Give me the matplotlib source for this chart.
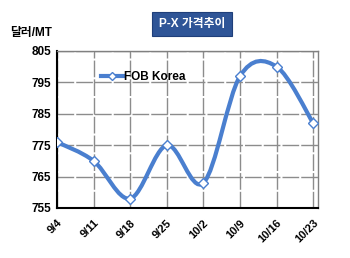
import matplotlib
matplotlib.use("Agg")
import matplotlib.pyplot as plt
import numpy as np
from matplotlib.path import Path
from matplotlib.patches import PathPatch
from matplotlib.lines import Line2D

plt.rcParams['font.family'] = ['Liberation Sans', 'Noto Sans CJK KR', 'DejaVu Sans']

dates = ["9/4", "9/11", "9/18", "9/25", "10/2", "10/9", "10/16", "10/23"]
fob_korea = [776, 770, 758, 775, 763, 797, 800, 782]
yticks = [755, 765, 775, 785, 795, 805]
title = "P-X 가격추이"
unit = "달러/MT"
series_name = "FOB Korea"

blue = "#4A7FCF"

fig = plt.figure(figsize=(3.5, 2.58), dpi=100)
ax = fig.add_axes([57/350, 1-208/258, (318-57)/350, (208-51)/258])

x = np.arange(len(dates))
y = np.array(fob_korea, dtype=float)

# smoothed line (Catmull-Rom style bezier through data points)
t = 1/6
verts = [(x[0], y[0])]
codes = [Path.MOVETO]
n = len(x)
for i in range(n-1):
    p0 = (x[i-1], y[i-1]) if i > 0 else (x[i], y[i])
    p1 = (x[i], y[i])
    p2 = (x[i+1], y[i+1])
    p3 = (x[i+2], y[i+2]) if i+2 < n else (x[i+1], y[i+1])
    c1 = (p1[0] + (p2[0]-p0[0])*t, p1[1] + (p2[1]-p0[1])*t)
    c2 = (p2[0] - (p3[0]-p1[0])*t, p2[1] - (p3[1]-p1[1])*t)
    verts += [c1, c2, p2]
    codes += [Path.CURVE4]*3
patch = PathPatch(Path(verts, codes), facecolor='none', edgecolor=blue, lw=3, zorder=3)
ax.add_patch(patch)
ax.plot(x, y, linestyle='none', marker='D', ms=5, mfc='white', mec=blue, mew=1, zorder=4)

ax.set_xlim(0, 7.13)
ax.set_ylim(755, 805)
ax.set_yticks(yticks)
ax.set_yticklabels([str(v) for v in yticks], fontsize=8.5, fontweight='bold')
ax.set_xticks(x)
ax.set_xticklabels(dates, fontsize=8, fontweight='bold', rotation=45, ha='right', rotation_mode='anchor')
ax.tick_params(axis='both', length=0, pad=4)
ax.tick_params(axis='x', pad=7)

ax.grid(True, color='#8C8C8C', lw=1, linestyle=(0, (12, 1.5)), zorder=1)
ax.set_axisbelow(True)
for s in ax.spines.values():
    s.set_color('#808080')
    s.set_linewidth(1)
ax.spines['left'].set_color('black')
ax.spines['bottom'].set_color('black')
ax.spines['left'].set_linewidth(1.5)
ax.spines['bottom'].set_linewidth(1.5)

# legend
h = Line2D([], [], color=blue, lw=3, marker='D', ms=4, mfc='white', mec=blue, mew=1)
leg = ax.legend([h], [series_name], loc='upper left', bbox_to_anchor=(0.15, 0.90),
                frameon=False, handlelength=1.9, handletextpad=0.1,
                prop={'size': 8.5, 'weight': 'bold'}, borderaxespad=0)

fig.text(192/350, 1-24/258, title, ha='center', va='center', color='white',
         fontsize=8.5, fontweight='bold',
         bbox=dict(boxstyle='square,pad=0.55', facecolor='#2F5597', edgecolor='#1F3F7A', lw=0.8))
fig.text(10/350, 1-33/258, unit, ha='left', va='center', fontsize=8.5, fontweight='bold')

fig.savefig("out.png", dpi=100)
